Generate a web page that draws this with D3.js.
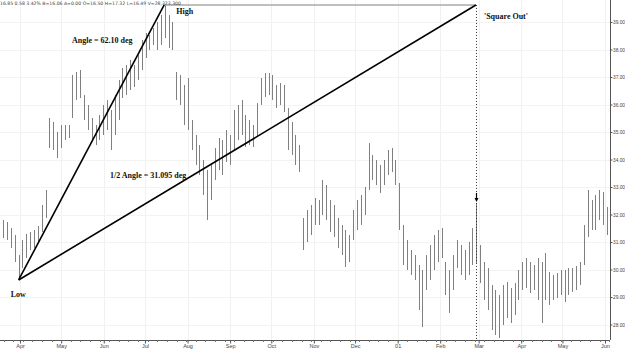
<!DOCTYPE html>
<html><head><meta charset="utf-8">
<script src="https://cdn.jsdelivr.net/npm/d3@7"></script>
<style>body{margin:0;background:#fff;} svg{display:block;}</style>
</head><body><svg id="c" width="625" height="350"></svg>
<script>
// ---- data ----
const barStartDate = "2000-03-17";
const barStepDays = 2.8;
const highs = [31.90,31.80,31.73,31.50,31.25,30.53,31.07,31.29,31.36,31.44,31.58,32.35,32.89,35.51,35.36,35.00,35.25,35.25,35.25,37.07,
37.18,37.25,36.35,35.98,35.51,35.25,35.62,35.98,36.16,35.80,36.35,36.89,37.33,37.44,37.62,37.44,37.80,38.35,38.60,38.53,
38.78,39.00,39.25,39.62,39.25,39.00,37.18,37.07,36.71,36.98,35.44,34.89,34.53,33.98,33.62,33.80,34.42,34.78,34.71,35.07,
34.89,35.80,35.98,36.16,35.62,35.44,35.25,36.05,36.96,37.15,37.15,37.07,36.71,36.78,36.71,35.87,35.36,34.89,34.53,31.87,
32.16,32.35,32.60,32.53,33.25,33.07,32.53,32.35,31.87,31.62,31.44,31.25,32.16,32.53,32.71,33.00,34.60,34.16,33.98,33.80,
33.98,34.35,34.42,33.98,33.15,31.62,31.07,30.71,30.53,30.16,29.98,30.53,30.89,31.25,31.44,31.51,30.27,29.98,30.53,31.07,
30.89,30.71,31.00,31.51,32.42,30.89,30.27,30.05,29.44,29.25,29.07,29.44,29.55,29.33,29.51,29.98,30.27,30.42,30.27,30.16,
30.42,30.27,30.60,29.91,29.80,29.87,29.98,29.98,30.05,30.05,30.13,30.27,31.62,32.89,32.53,32.71,32.89,32.82,32.27];
const lows = [31.07,31.15,31.07,30.80,30.27,29.62,30.07,30.42,30.71,30.78,30.93,31.36,31.87,34.42,34.35,34.05,34.42,34.71,34.80,35.51,
36.16,36.24,35.44,35.07,34.71,34.53,34.71,34.89,35.07,34.35,34.89,35.44,36.24,36.35,36.53,36.62,36.89,37.25,37.70,37.98,
38.16,38.00,38.16,38.42,38.05,37.98,36.16,35.98,35.25,35.07,34.35,33.80,33.44,32.71,31.80,32.53,33.25,33.62,33.44,33.91,
33.80,34.35,34.71,34.89,34.45,34.53,34.45,34.82,35.98,36.27,36.35,36.16,35.87,35.98,35.73,34.35,34.16,33.80,33.55,30.71,
31.00,31.25,31.62,31.62,31.98,31.80,31.36,31.18,30.78,30.53,30.09,30.27,31.07,31.44,31.62,31.98,32.89,33.25,33.07,32.78,
33.07,33.44,33.55,33.07,31.44,30.16,29.98,29.80,29.62,28.53,27.91,29.25,29.62,29.98,30.27,30.42,29.07,28.42,29.25,30.05,
29.80,29.62,29.80,30.16,30.24,29.51,28.89,28.53,27.80,27.62,27.51,27.98,28.24,28.05,28.35,28.89,29.25,29.33,29.15,29.25,
28.89,28.05,28.89,28.71,28.89,28.96,29.07,28.82,29.07,29.18,29.25,29.44,30.16,31.18,31.44,31.44,31.80,31.62,31.25];
const monthTicks = ["2000-04-01","2000-05-01","2000-06-01","2000-07-01","2000-08-01","2000-09-01","2000-10-01","2000-11-01",
"2000-12-01","2001-01-01","2001-02-01","2001-03-01","2001-04-01","2001-05-01","2001-06-01"];
const monthLabels = ["Apr","May","Jun","Jul","Aug","Sep","Oct","Nov","Dec","01","Feb","Mar","Apr","May","Jun"];
const priceTicks = [28,29,30,31,32,33,34,35,36,37,38,39];
const lowPoint = {date:"2000-03-31", price:29.62, label:"Low"};
const highPoint = {date:"2000-07-15", price:39.62, label:"High"};
const squarePoint = {date:"2001-02-27", price:39.62, label:"'Square Out'"};
const angleLabel = "Angle = 62.10 deg";
const halfAngleLabel = "1/2 Angle = 31.095 deg";
const headerText = "16.85  0.58  3.42%  B=16.06  A=0.00  O=16.50  H=17.32  L=16.49  V=28,323,300";

// ---- chart ----
const parse = d3.timeParse("%Y-%m-%d");
const svg = d3.select("#c");
const W = 625, H = 350, plotR = 610, plotB = 340;
const x = d3.scaleTime().domain([parse("2000-04-01"), parse("2001-06-01")]).range([20, 605]);
const y = d3.scaleLinear().domain([28, 39]).range([324.5, 22]);

const start = parse(barStartDate);
const bars = highs.map((h, i) => ({
  date: new Date(start.getTime() + i * barStepDays * 86400000), high: h, low: lows[i]
}));

svg.append("rect").attr("width", W).attr("height", H).attr("fill", "#fff");

// faint grid
const grid = svg.append("g");
grid.selectAll("line.v").data(monthTicks.map(parse)).enter().append("line")
  .attr("x1", d => Math.round(x(d)) + 0.5).attr("x2", d => Math.round(x(d)) + 0.5)
  .attr("y1", 0).attr("y2", plotB).attr("stroke", "#f1f1f1");
grid.selectAll("line.h").data(priceTicks).enter().append("line")
  .attr("x1", 0).attr("x2", plotR).attr("y1", d => Math.round(y(d)) + 0.5).attr("y2", d => Math.round(y(d)) + 0.5)
  .attr("stroke", "#f3f3f3");

const clip = svg.append("defs").append("clipPath").attr("id", "pc");
clip.append("rect").attr("x", 0).attr("y", 0).attr("width", plotR).attr("height", plotB);
const plot = svg.append("g").attr("clip-path", "url(#pc)");

// high-low bars
plot.selectAll("line.bar").data(bars).enter().append("line")
  .attr("x1", d => Math.round(x(d.date)) + 0.5).attr("x2", d => Math.round(x(d.date)) + 0.5)
  .attr("y1", d => y(d.high)).attr("y2", d => y(d.low))
  .attr("stroke", "#808080").attr("stroke-width", 1).attr("shape-rendering", "crispEdges");

const L = {x: x(parse(lowPoint.date)), y: y(lowPoint.price)};
const Hh = {x: x(parse(highPoint.date)), y: y(highPoint.price)};
const S = {x: x(parse(squarePoint.date)), y: y(squarePoint.price)};

// high horizontal line
plot.append("line").attr("x1", Hh.x).attr("x2", S.x).attr("y1", Hh.y).attr("y2", S.y)
  .attr("stroke", "#aaaaaa").attr("stroke-width", 1.5);
// square-out dotted vertical
plot.append("line").attr("x1", Math.round(S.x) + 0.5).attr("x2", Math.round(S.x) + 0.5)
  .attr("y1", S.y).attr("y2", plotB)
  .attr("stroke", "#333").attr("stroke-width", 1).attr("stroke-dasharray", "1,2");
// angle lines
plot.append("line").attr("x1", L.x).attr("y1", L.y).attr("x2", Hh.x).attr("y2", Hh.y)
  .attr("stroke", "#000").attr("stroke-width", 1.6);
plot.append("line").attr("x1", L.x).attr("y1", L.y).attr("x2", S.x).attr("y2", S.y)
  .attr("stroke", "#000").attr("stroke-width", 1.6);

// arrow marker on the square-out bar
const sqD = parse(squarePoint.date);
const sqBar = bars.reduce((a, b) => Math.abs(b.date - sqD) < Math.abs(a.date - sqD) ? b : a);
const ax = Math.round(x(sqBar.date)) + 0.5, ay = y(sqBar.high) - 1;
plot.append("line").attr("x1", ax).attr("x2", ax).attr("y1", ay - 9).attr("y2", ay - 2).attr("stroke", "#000").attr("stroke-width", 1.2);
plot.append("path").attr("d", `M${ax-2},${ay-4}L${ax+2},${ay-4}L${ax},${ay}Z`).attr("fill", "#000");

// annotations
const ann = svg.append("g").attr("font-family", "'Liberation Serif', 'Times New Roman', serif")
  .attr("font-weight", "bold").attr("font-size", 8).attr("fill", "#111");
ann.append("text").attr("x", Hh.x + 12).attr("y", Hh.y + 9).text(highPoint.label);
ann.append("text").attr("x", S.x + 8).attr("y", S.y + 14).text(squarePoint.label);
ann.append("text").attr("x", L.x - 8).attr("y", L.y + 17).text(lowPoint.label);
ann.append("text").attr("x", 72).attr("y", 43).text(angleLabel);
ann.append("text").attr("x", 110).attr("y", 178).text(halfAngleLabel);

// header info text
svg.append("text").attr("x", 0).attr("y", 5).attr("font-family", "'DejaVu Sans', sans-serif")
  .attr("font-size", 4.6).attr("fill", "#444").text(headerText);

// right price axis
const yAxis = d3.axisRight(y).tickValues(priceTicks).tickFormat(d3.format(".2f")).tickSize(2).tickPadding(0.5);
const ya = svg.append("g").attr("transform", `translate(${plotR + 0.5},0)`).call(yAxis);
ya.select(".domain").attr("d", `M0,0V${plotB}`).attr("stroke", "#555");
ya.selectAll(".tick line").attr("stroke", "#555");
ya.selectAll("text").attr("font-family", "'Liberation Sans', Arial, sans-serif").attr("font-size", 4.8).attr("fill", "#444");

// bottom time axis
const mDates = monthTicks.map(parse);
const xAxis = d3.axisBottom(x).tickValues(mDates).tickFormat((d, i) => monthLabels[i]).tickSize(3).tickPadding(1);
const xa = svg.append("g").attr("transform", `translate(0,${plotB + 0.5})`).call(xAxis);
xa.select(".domain").attr("d", `M0,0H${plotR}`).attr("stroke", "#555");
xa.selectAll(".tick line").attr("stroke", "#555");
xa.selectAll("text").attr("font-family", "'Liberation Sans', Arial, sans-serif").attr("font-size", 5.5).attr("fill", "#444");
// weekly minor ticks
const weeks = d3.timeMonday.range(x.invert(0), x.invert(plotR));
xa.selectAll("line.minor").data(weeks).enter().append("line").attr("class", "minor")
  .attr("x1", d => Math.round(x(d)) + 0.5).attr("x2", d => Math.round(x(d)) + 0.5)
  .attr("y1", 0).attr("y2", 1.5).attr("stroke", "#777");
</script></body></html>
